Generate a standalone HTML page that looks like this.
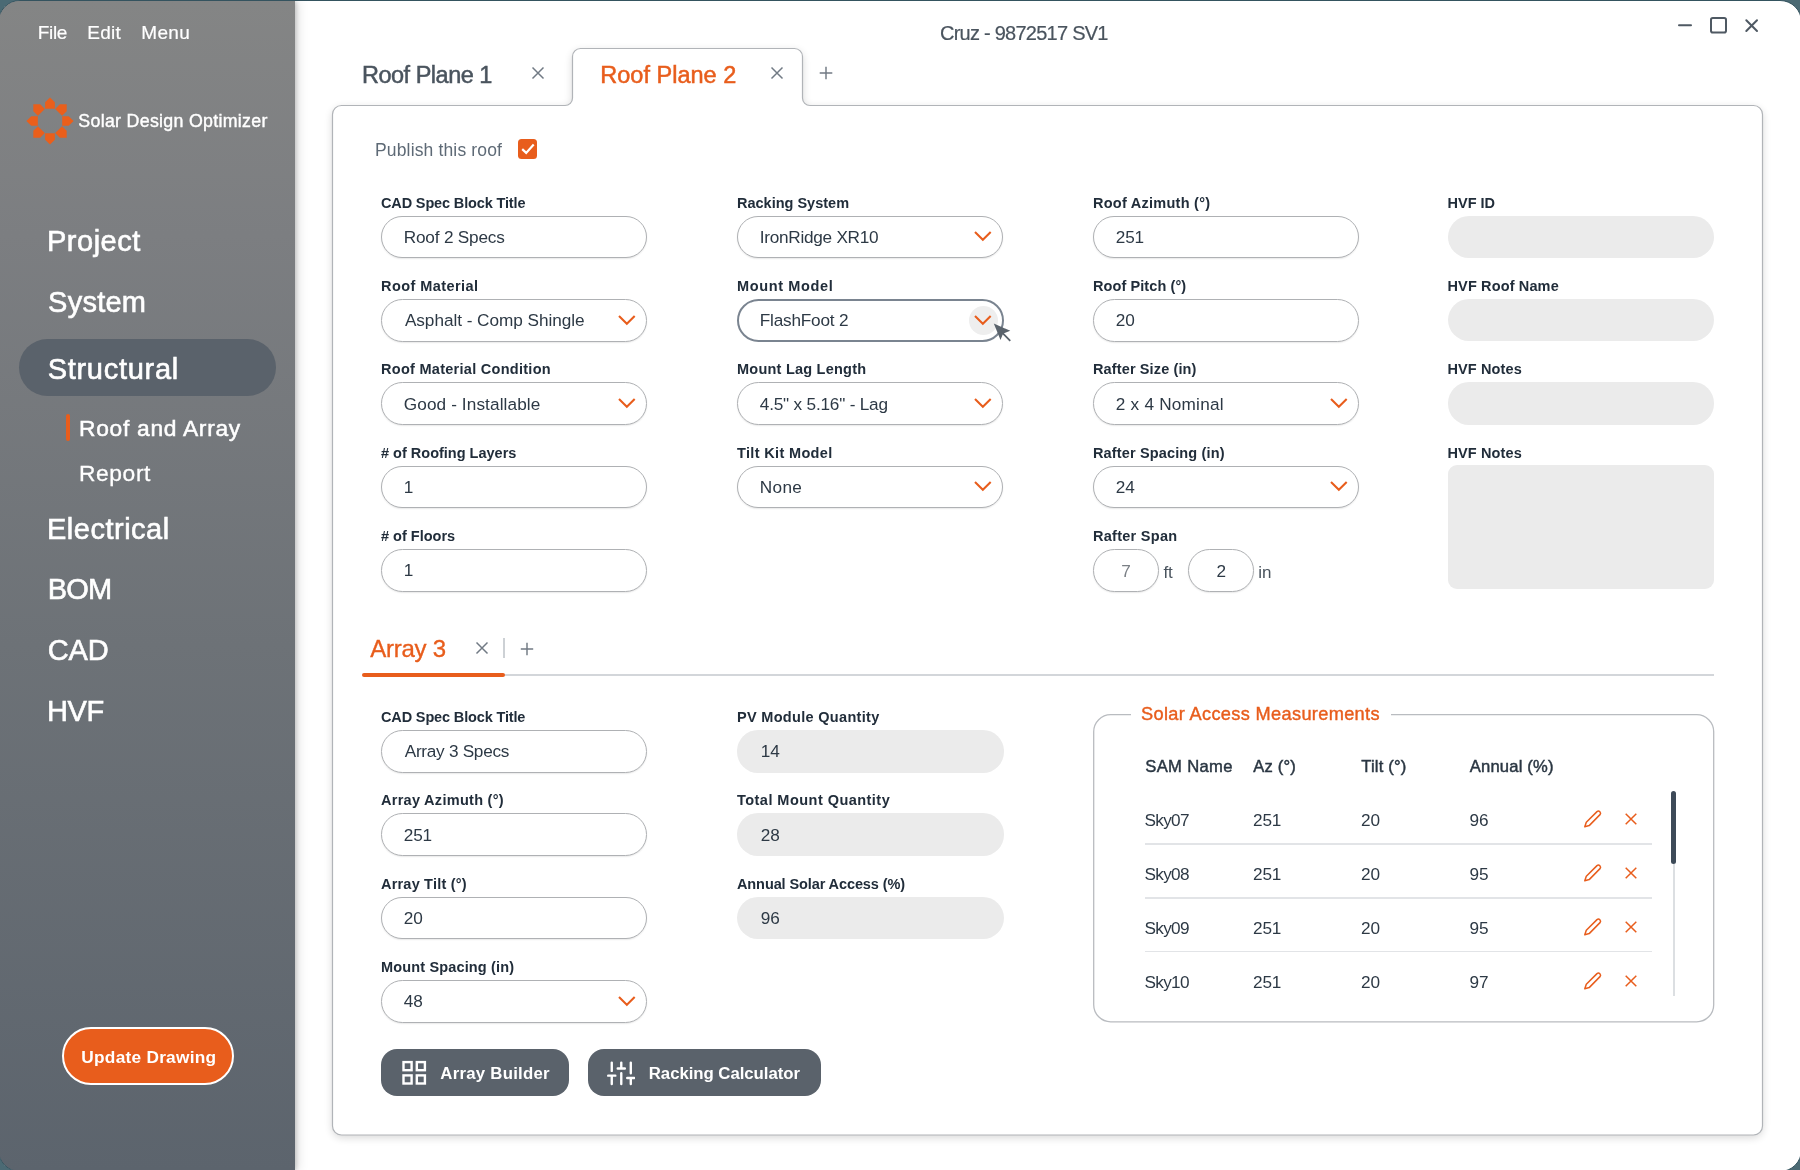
<!DOCTYPE html>
<html>
<head>
<meta charset="utf-8">
<title>Solar Design Optimizer</title>
<style>
*{box-sizing:border-box;margin:0;padding:0}
html,body{width:1800px;height:1170px;overflow:hidden}
body{background:#4b6a74;font-family:"Liberation Sans",sans-serif;position:relative}
.abs{position:absolute}
#win{position:absolute;left:-2px;top:0;width:1804px;height:1172px;border:1px solid #34535f;background:linear-gradient(180deg,#848585 0%,#7c7e81 20%,#6d7277 55%,#5c646d 100%) left top/290px 100% no-repeat,#fff;border-radius:22px;overflow:hidden}
#inner{position:absolute;left:1px;top:0;width:1800px;height:1170px;will-change:transform}
#side{position:absolute;left:-1px;top:0;width:296px;height:1170px;background:linear-gradient(180deg,#848585 0%,#7c7e81 20%,#6d7277 55%,#5c646d 100%);box-shadow:1px 0 5px rgba(0,0,0,.22),4px 0 10px rgba(0,0,0,.10);z-index:5}
#main{position:absolute;left:0;top:0;width:1800px;height:1169px}
.t{position:absolute;white-space:nowrap;line-height:1;transform:translateY(-50%)}
.menu{color:#fff;font-size:19px;letter-spacing:-.3px;-webkit-text-stroke:.2px #fff}
.brand{color:#fff;font-size:17.8px;letter-spacing:.3px;-webkit-text-stroke:.4px #fff}
.nav{color:#fff;font-size:29px;letter-spacing:.5px;-webkit-text-stroke:.6px #fff}
.sub{color:#fff;font-size:22.8px;letter-spacing:.6px;-webkit-text-stroke:.3px #fff}
.upd{color:#fff;font-size:17.3px;font-weight:bold;letter-spacing:.25px}
.title{color:#4a545e;font-size:20px;letter-spacing:-.75px;-webkit-text-stroke:.2px #4a545e}
.tab{font-size:23.5px;letter-spacing:-.5px}
.atab{font-size:24px;color:#e85d1c;-webkit-text-stroke:.35px #e85d1c}
.pub{color:#5e6a76;font-size:17.5px;letter-spacing:.15px}
.lbl{color:#212d3a;font-weight:bold;font-size:14.5px}
.val{color:#2d3945;font-size:17.2px;letter-spacing:-.2px}
.grey{color:#7a7f85}
.unit{color:#4a545e;font-size:17px}
.inp{position:absolute;width:266px;height:42.8px;border:1px solid #afb1b4;border-radius:21.4px;background:#fff;box-shadow:0 1px 1.5px rgba(0,0,0,.09)}
.inp.foc{border:2px solid #7a8490;box-shadow:none;border-radius:22px}
.dis{position:absolute;background:#ebebeb}
.btn{color:#fff;font-weight:bold;font-size:16.8px}
.leg{color:#e85d1c;font-size:18.2px;letter-spacing:.3px;-webkit-text-stroke:.4px #e85d1c}
.th{color:#2a3642;font-size:16.6px;letter-spacing:.2px;-webkit-text-stroke:.45px #2a3642}
.td{color:#2d3945;font-size:17.2px;letter-spacing:-.2px}
</style>
</head>
<body>
<div id="win"><div id="inner">
<div id="side"><div class="abs" style="left:1px;top:0">
<div class="t menu" style="left:37.7px;top:30.8px;;letter-spacing:-0.300px;">File</div>
<div class="t menu" style="left:87.2px;top:30.8px;;letter-spacing:0.300px;">Edit</div>
<div class="t menu" style="left:141.3px;top:30.8px;;letter-spacing:0.300px;">Menu</div>
<svg class="abs" style="left:23.9px;top:93.9px" width="52" height="52" viewBox="-26 -26 52 52">
<path d="M-4.87 -12.2 L-4.87 -18.7 L0 -23.6 L4.87 -18.7 L4.87 -12.2 Z" fill="#ea5f1b" transform="rotate(0)"/>
<path d="M-4.87 -12.2 L-4.87 -18.7 L0 -23.6 L4.87 -18.7 L4.87 -12.2 Z" fill="#ea5f1b" transform="rotate(45)"/>
<path d="M-4.87 -12.2 L-4.87 -18.7 L0 -23.6 L4.87 -18.7 L4.87 -12.2 Z" fill="#ea5f1b" transform="rotate(90)"/>
<path d="M-4.87 -12.2 L-4.87 -18.7 L0 -23.6 L4.87 -18.7 L4.87 -12.2 Z" fill="#ea5f1b" transform="rotate(135)"/>
<path d="M-4.87 -12.2 L-4.87 -18.7 L0 -23.6 L4.87 -18.7 L4.87 -12.2 Z" fill="#ea5f1b" transform="rotate(180)"/>
<path d="M-4.87 -12.2 L-4.87 -18.7 L0 -23.6 L4.87 -18.7 L4.87 -12.2 Z" fill="#ea5f1b" transform="rotate(225)"/>
<path d="M-4.87 -12.2 L-4.87 -18.7 L0 -23.6 L4.87 -18.7 L4.87 -12.2 Z" fill="#ea5f1b" transform="rotate(270)"/>
<path d="M-4.87 -12.2 L-4.87 -18.7 L0 -23.6 L4.87 -18.7 L4.87 -12.2 Z" fill="#ea5f1b" transform="rotate(315)"/>
</svg>
<div class="t brand" style="left:78.3px;top:120.6px;;letter-spacing:0.300px;">Solar Design Optimizer</div>
<div class="t nav" style="left:47px;top:239.5px;;letter-spacing:0.500px;">Project</div>
<div class="t nav" style="left:48.08px;top:300.5px;;letter-spacing:0.248px;">System</div>
<div class="abs" style="left:19px;top:338px;width:257px;height:57px;border-radius:28.5px;background:#5a626b"></div>
<div class="t nav" style="left:47.63px;top:367.5px;;letter-spacing:0.730px;">Structural</div>
<div class="abs" style="left:66.3px;top:413px;width:4px;height:26.5px;border-radius:2px;background:#e85d1c"></div>
<div class="t sub" style="left:79px;top:427px;-webkit-text-stroke:.5px #fff;letter-spacing:0.704px;">Roof and Array</div>
<div class="t sub" style="left:79.0px;top:472px;;letter-spacing:0.600px;">Report</div>
<div class="t nav" style="left:47px;top:527.5px;;letter-spacing:0.500px;">Electrical</div>
<div class="t nav" style="left:47.72px;top:588px;;letter-spacing:-0.760px;">BOM</div>
<div class="t nav" style="left:47.81px;top:648.5px;;letter-spacing:-0.220px;">CAD</div>
<div class="t nav" style="left:47px;top:709.5px;;letter-spacing:-0.400px;">HVF</div>
<div class="abs" style="left:62px;top:1026px;width:172px;height:58px;border-radius:29px;background:#e85d1c;border:2.5px solid #fff"></div>
<div class="t upd" style="left:81.3px;top:1056.8px;;letter-spacing:0.250px;">Update Drawing</div>
</div></div>
<div id="main">
<div class="t title" style="left:940px;top:31.6px;;letter-spacing:-0.750px;">Cruz - 9872517 SV1</div>
<svg class="abs" style="left:1670px;top:9px" width="100" height="32" viewBox="1670 10 100 32" fill="none" stroke="#4f5963" stroke-width="2" stroke-linecap="round" stroke-linejoin="round"><path d="M1679 25.3 H1691"/><rect x="1711" y="18" width="15" height="14.5" rx="1.8"/><path d="M1746.3 20.3 L1757 31 M1757 20.3 L1746.3 31"/></svg>
<svg class="abs" style="left:300px;top:19px;overflow:visible" width="1490" height="1150" viewBox="300 20 1490 1150"><defs><filter id="sh" x="-5%" y="-5%" width="110%" height="110%"><feGaussianBlur stdDeviation="4.5"/></filter></defs><path d="M332.5 114.5 A9 9 0 0 1 341.5 105.5 H565.0 A7.5 7.5 0 0 0 572.5 98.0 V56.5 A8 8 0 0 1 580.5 48.5 H794.5 A8 8 0 0 1 802.5 56.5 V98.0 A7.5 7.5 0 0 0 810.0 105.5 H1753.5 A9 9 0 0 1 1762.5 114.5 V1126 A9 9 0 0 1 1753.5 1135 H341.5 A9 9 0 0 1 332.5 1126 Z" fill="#000" opacity=".16" filter="url(#sh)" transform="translate(0,2.5)"/><path d="M332.5 114.5 A9 9 0 0 1 341.5 105.5 H565.0 A7.5 7.5 0 0 0 572.5 98.0 V56.5 A8 8 0 0 1 580.5 48.5 H794.5 A8 8 0 0 1 802.5 56.5 V98.0 A7.5 7.5 0 0 0 810.0 105.5 H1753.5 A9 9 0 0 1 1762.5 114.5 V1126 A9 9 0 0 1 1753.5 1135 H341.5 A9 9 0 0 1 332.5 1126 Z" fill="#fff" stroke="#b1b4b8" stroke-width="1.2"/></svg>
<div class="t tab" style="left:362px;top:75px;color:#4a545e;-webkit-text-stroke:.5px #4a545e;letter-spacing:-0.500px;">Roof Plane 1</div>
<div class="t tab" style="left:600.3px;top:75px;color:#e85d1c;-webkit-text-stroke:.5px #e85d1c;letter-spacing:-.1px;letter-spacing:0.006px;">Roof Plane 2</div>
<svg class="abs" style="left:528.1px;top:61.599999999999994px" width="20" height="20" viewBox="-10 -10 20 20"><path d="M-5.5 -5.5 L5.5 5.5 M5.5 -5.5 L-5.5 5.5" stroke="#717a84" stroke-width="1.45" fill="none"/></svg>
<svg class="abs" style="left:767.1px;top:61.599999999999994px" width="20" height="20" viewBox="-10 -10 20 20"><path d="M-5.5 -5.5 L5.5 5.5 M5.5 -5.5 L-5.5 5.5" stroke="#717a84" stroke-width="1.45" fill="none"/></svg>
<svg class="abs" style="left:816px;top:61.599999999999994px" width="20" height="20" viewBox="-10 -10 20 20"><path d="M-6.3 0 H6.3 M0 -6.3 V6.3" stroke="#717a84" stroke-width="1.45" fill="none"/></svg>
<div class="t pub" style="left:375px;top:150px;;letter-spacing:0.150px;">Publish this roof</div>
<div class="abs" style="left:518px;top:138.1px;width:19.2px;height:19.6px;border-radius:3.5px;background:#e85d1c"></div>
<svg class="abs" style="left:518px;top:137.6px" width="19.5" height="19.5" viewBox="0 0 19.5 19.5"><path d="M4.2 10.1 L8.2 13.9 L15.7 5.6" fill="none" stroke="#fff" stroke-width="2.2" stroke-linecap="butt" stroke-linejoin="miter"/></svg>
<div class="t lbl" style="left:381px;top:201.5px;;letter-spacing:-0.142px;">CAD Spec Block Title</div>
<div class="inp" style="left:381px;top:214.6px;width:266px"></div>
<div class="t val" style="left:403.8px;top:236.9px;;letter-spacing:-0.200px;">Roof 2 Specs</div>
<div class="t lbl" style="left:381px;top:284.8px;;letter-spacing:0.435px;">Roof Material</div>
<div class="inp" style="left:381px;top:297.90000000000003px;width:266px"></div>
<div class="t val" style="left:404.88px;top:320.2px;;letter-spacing:-0.037px;">Asphalt - Comp Shingle</div>
<svg class="abs" style="left:617.35px;top:312.75000000000006px" width="19.7" height="11.8" viewBox="-2 -2 19.7 11.8"><path d="M0 0 L7.85 7.8 L15.7 0" fill="none" stroke="#e85d1c" stroke-width="2.05" stroke-linecap="butt" stroke-linejoin="miter"/></svg>
<div class="t lbl" style="left:381px;top:368.2px;;letter-spacing:0.278px;">Roof Material Condition</div>
<div class="inp" style="left:381px;top:381.3px;width:266px"></div>
<div class="t val" style="left:403.8px;top:403.59999999999997px;;letter-spacing:0.107px;">Good - Installable</div>
<svg class="abs" style="left:617.35px;top:396.15000000000003px" width="19.7" height="11.8" viewBox="-2 -2 19.7 11.8"><path d="M0 0 L7.85 7.8 L15.7 0" fill="none" stroke="#e85d1c" stroke-width="2.05" stroke-linecap="butt" stroke-linejoin="miter"/></svg>
<div class="t lbl" style="left:381px;top:451.5px;;letter-spacing:0.000px;"># of Roofing Layers</div>
<div class="inp" style="left:381px;top:464.6px;width:266px"></div>
<div class="t val" style="left:403.8px;top:486.9px;">1</div>
<div class="t lbl" style="left:381px;top:534.8px;;letter-spacing:0.000px;"># of Floors</div>
<div class="inp" style="left:381px;top:547.9px;width:266px"></div>
<div class="t val" style="left:403.8px;top:570.1999999999999px;">1</div>
<div class="t lbl" style="left:737px;top:201.5px;;letter-spacing:0.000px;">Racking System</div>
<div class="inp" style="left:737px;top:214.6px;width:266px"></div>
<div class="t val" style="left:759.8px;top:236.9px;;letter-spacing:-0.269px;">IronRidge XR10</div>
<svg class="abs" style="left:973.35px;top:229.45px" width="19.7" height="11.8" viewBox="-2 -2 19.7 11.8"><path d="M0 0 L7.85 7.8 L15.7 0" fill="none" stroke="#e85d1c" stroke-width="2.05" stroke-linecap="butt" stroke-linejoin="miter"/></svg>
<div class="t lbl" style="left:737px;top:284.8px;;letter-spacing:0.630px;">Mount Model</div>
<div class="inp foc" style="left:736.5px;top:297.8px;width:267px;height:43px"></div>
<div class="t val" style="left:759.8px;top:320.2px;;letter-spacing:-0.200px;">FlashFoot 2</div>
<div class="abs" style="left:968.9px;top:304.8px;width:29px;height:29px;border-radius:50%;background:#eeeeee"></div>
<svg class="abs" style="left:973.35px;top:312.75000000000006px" width="19.7" height="11.8" viewBox="-2 -2 19.7 11.8"><path d="M0 0 L7.85 7.8 L15.7 0" fill="none" stroke="#e85d1c" stroke-width="2.05" stroke-linecap="butt" stroke-linejoin="miter"/></svg>
<div class="t lbl" style="left:737px;top:368.2px;;letter-spacing:0.228px;">Mount Lag Length</div>
<div class="inp" style="left:737px;top:381.3px;width:266px"></div>
<div class="t val" style="left:759.8px;top:403.59999999999997px;">4.5" x 5.16" - Lag</div>
<svg class="abs" style="left:973.35px;top:396.15000000000003px" width="19.7" height="11.8" viewBox="-2 -2 19.7 11.8"><path d="M0 0 L7.85 7.8 L15.7 0" fill="none" stroke="#e85d1c" stroke-width="2.05" stroke-linecap="butt" stroke-linejoin="miter"/></svg>
<div class="t lbl" style="left:737px;top:451.5px;;letter-spacing:0.346px;">Tilt Kit Model</div>
<div class="inp" style="left:737px;top:464.6px;width:266px"></div>
<div class="t val" style="left:759.8px;top:486.9px;;letter-spacing:0.340px;">None</div>
<svg class="abs" style="left:973.35px;top:479.45000000000005px" width="19.7" height="11.8" viewBox="-2 -2 19.7 11.8"><path d="M0 0 L7.85 7.8 L15.7 0" fill="none" stroke="#e85d1c" stroke-width="2.05" stroke-linecap="butt" stroke-linejoin="miter"/></svg>
<div class="t lbl" style="left:1093px;top:201.5px;;letter-spacing:0.258px;">Roof Azimuth (°)</div>
<div class="inp" style="left:1093px;top:214.6px;width:266px"></div>
<div class="t val" style="left:1115.8px;top:236.9px;">251</div>
<div class="t lbl" style="left:1093px;top:284.8px;;letter-spacing:0.090px;">Roof Pitch (°)</div>
<div class="inp" style="left:1093px;top:297.90000000000003px;width:266px"></div>
<div class="t val" style="left:1115.8px;top:320.2px;">20</div>
<div class="t lbl" style="left:1093px;top:368.2px;;letter-spacing:0.126px;">Rafter Size (in)</div>
<div class="inp" style="left:1093px;top:381.3px;width:266px"></div>
<div class="t val" style="left:1115.8px;top:403.59999999999997px;;letter-spacing:0.220px;">2 x 4 Nominal</div>
<svg class="abs" style="left:1329.3500000000001px;top:396.15000000000003px" width="19.7" height="11.8" viewBox="-2 -2 19.7 11.8"><path d="M0 0 L7.85 7.8 L15.7 0" fill="none" stroke="#e85d1c" stroke-width="2.05" stroke-linecap="butt" stroke-linejoin="miter"/></svg>
<div class="t lbl" style="left:1093px;top:451.5px;;letter-spacing:0.145px;">Rafter Spacing (in)</div>
<div class="inp" style="left:1093px;top:464.6px;width:266px"></div>
<div class="t val" style="left:1115.8px;top:486.9px;">24</div>
<svg class="abs" style="left:1329.3500000000001px;top:479.45000000000005px" width="19.7" height="11.8" viewBox="-2 -2 19.7 11.8"><path d="M0 0 L7.85 7.8 L15.7 0" fill="none" stroke="#e85d1c" stroke-width="2.05" stroke-linecap="butt" stroke-linejoin="miter"/></svg>
<div class="t lbl" style="left:1093px;top:534.8px;;letter-spacing:0.270px;">Rafter Span</div>
<div class="inp" style="left:1093px;top:547.9px;width:66px"></div>
<div class="t val" style="left:1115.8px;top:570.1999999999999px;"></div>
<div class="t val grey" style="left:1093px;top:570.6999999999999px;width:66px;text-align:center">7</div>
<div class="t unit" style="left:1163.4px;top:570.6999999999999px;">ft</div>
<div class="inp" style="left:1188px;top:547.9px;width:66px"></div>
<div class="t val" style="left:1210.8px;top:570.1999999999999px;"></div>
<div class="t val" style="left:1188.3px;top:570.6999999999999px;width:66px;text-align:center">2</div>
<div class="t unit" style="left:1258.2px;top:570.6999999999999px;">in</div>
<div class="t lbl" style="left:1447.5px;top:201.5px;;letter-spacing:0.000px;">HVF ID</div>
<div class="dis" style="left:1447.5px;top:214.6px;width:266.5px;height:42.6px;border-radius:21px"></div>
<div class="t lbl" style="left:1447.5px;top:284.8px;;letter-spacing:0.136px;">HVF Roof Name</div>
<div class="dis" style="left:1447.5px;top:297.90000000000003px;width:266.5px;height:42.6px;border-radius:21px"></div>
<div class="t lbl" style="left:1447.5px;top:368.2px;;letter-spacing:0.112px;">HVF Notes</div>
<div class="dis" style="left:1447.5px;top:381.3px;width:266.5px;height:42.6px;border-radius:21px"></div>
<div class="t lbl" style="left:1447.5px;top:451.5px;;letter-spacing:0.112px;">HVF Notes</div>
<div class="dis" style="left:1447.5px;top:464.3px;width:266.5px;height:123.5px;border-radius:9px"></div>
<svg class="abs" style="left:990px;top:319px" width="26" height="26" viewBox="990 320 26 26"><path d="M993.8 323.6 L1010.3 330.8 L1003.9 333.2 L1010.9 340.2 L1009.6 341.4 L1002.7 334.4 L1000.5 339.9 Z" fill="#5a636c"/></svg>
<div class="abs" style="left:363px;top:672.8px;width:1351px;height:2px;background:#d3d6da"></div>
<div class="abs" style="left:362.3px;top:671.8px;width:142.6px;height:4.6px;border-radius:2.3px;background:#e85d1c"></div>
<div class="t atab" style="left:370.3px;top:647.6px;;letter-spacing:-0.255px;">Array 3</div>
<svg class="abs" style="left:471.7px;top:637.4px" width="20" height="20" viewBox="-10 -10 20 20"><path d="M-5.5 -5.5 L5.5 5.5 M5.5 -5.5 L-5.5 5.5" stroke="#717a84" stroke-width="1.45" fill="none"/></svg>
<svg class="abs" style="left:516.8px;top:637.5px" width="20" height="20" viewBox="-10 -10 20 20"><path d="M-6.2 0 H6.2 M0 -6.2 V6.2" stroke="#717a84" stroke-width="1.45" fill="none"/></svg>
<div class="abs" style="left:503.4px;top:637.4px;width:2px;height:19.4px;background:#cdd1d5"></div>
<div class="t lbl" style="left:381px;top:715.9px;;letter-spacing:-0.147px;">CAD Spec Block Title</div>
<div class="inp" style="left:381px;top:729.0px;width:266px"></div>
<div class="t val" style="left:404.7px;top:751.3px;;letter-spacing:-0.275px;">Array 3 Specs</div>
<div class="t lbl" style="left:381px;top:799.2px;;letter-spacing:0.287px;">Array Azimuth (°)</div>
<div class="inp" style="left:381px;top:812.3000000000001px;width:266px"></div>
<div class="t val" style="left:403.8px;top:834.6px;">251</div>
<div class="t lbl" style="left:381px;top:882.6px;;letter-spacing:0.201px;">Array Tilt (°)</div>
<div class="inp" style="left:381px;top:895.7px;width:266px"></div>
<div class="t val" style="left:403.8px;top:918.0px;">20</div>
<div class="t lbl" style="left:381px;top:965.9px;;letter-spacing:0.148px;">Mount Spacing (in)</div>
<div class="inp" style="left:381px;top:979.0px;width:266px"></div>
<div class="t val" style="left:403.8px;top:1001.3px;">48</div>
<svg class="abs" style="left:617.35px;top:993.85px" width="19.7" height="11.8" viewBox="-2 -2 19.7 11.8"><path d="M0 0 L7.85 7.8 L15.7 0" fill="none" stroke="#e85d1c" stroke-width="2.05" stroke-linecap="butt" stroke-linejoin="miter"/></svg>
<div class="t lbl" style="left:737px;top:715.9px;;letter-spacing:0.312px;">PV Module Quantity</div>
<div class="dis" style="left:737px;top:729.0px;width:266.5px;height:42.7px;border-radius:21px"></div>
<div class="t val" style="left:760.8px;top:751.3px;">14</div>
<div class="t lbl" style="left:737px;top:799.2px;;letter-spacing:0.464px;">Total Mount Quantity</div>
<div class="dis" style="left:737px;top:812.3000000000001px;width:266.5px;height:42.7px;border-radius:21px"></div>
<div class="t val" style="left:760.8px;top:834.6px;">28</div>
<div class="t lbl" style="left:737px;top:882.6px;;letter-spacing:-0.102px;">Annual Solar Access (%)</div>
<div class="dis" style="left:737px;top:895.7px;width:266.5px;height:42.7px;border-radius:21px"></div>
<div class="t val" style="left:760.8px;top:918.0px;">96</div>
<div class="abs" style="left:381px;top:1048px;width:188.3px;height:47px;border-radius:16px;background:#5a626b"></div>
<div class="abs" style="left:588px;top:1048px;width:232.5px;height:47px;border-radius:16px;background:#5a626b"></div>
<svg class="abs" style="left:398px;top:1055px" width="34" height="34" viewBox="398 1056 34 34" fill="none" stroke="#fff" stroke-width="2.4"><rect x="403.5" y="1062.1" width="8.1" height="8.1"/><rect x="416.8" y="1062.1" width="8.1" height="8.1"/><rect x="403.5" y="1075.4" width="8.1" height="8.1"/><rect x="416.8" y="1075.4" width="8.1" height="8.1"/></svg>
<svg class="abs" style="left:606.95px;top:1057.55px" width="28.56" height="28.56" viewBox="0 0 24 24" fill="none" stroke="#fff" stroke-width="2" stroke-linecap="round"><path d="M4 21v-7M4 10V3M12 21v-9M12 8V3M20 21v-5M20 12V3M1 14h6M9 8h6M17 16h6"/></svg>
<div class="t btn" style="left:440.3px;top:1072.5px;letter-spacing:.25px;letter-spacing:0.250px;">Array Builder</div>
<div class="t btn" style="left:648.8px;top:1072.5px;letter-spacing:-.05px;letter-spacing:-0.050px;">Racking Calculator</div>
<svg class="abs" style="left:1080px;top:699px" width="650" height="340" viewBox="1080 700 650 340"><path d="M1131 714.7 H1110.7 A17 17 0 0 0 1093.7 731.7 V1004.8 A17 17 0 0 0 1110.7 1021.8 H1696.7 A17 17 0 0 0 1713.7 1004.8 V731.7 A17 17 0 0 0 1696.7 714.7 H1391" fill="none" stroke="#b9bcc0" stroke-width="1.3"/></svg>
<div class="t leg" style="left:1141px;top:713.2px;;letter-spacing:0.337px;">Solar Access Measurements</div>
<div class="t th" style="left:1145.33px;top:766.2px;;letter-spacing:0.329px;">SAM Name</div>
<div class="t th" style="left:1253.2px;top:766.2px;">Az (°)</div>
<div class="t th" style="left:1361.2px;top:766.2px;">Tilt (°)</div>
<div class="t th" style="left:1469.7px;top:766.2px;">Annual (%)</div>
<div class="t td" style="left:1144.6px;top:820.0px;;letter-spacing:-0.717px;">Sky07</div>
<div class="t td" style="left:1253.1px;top:820.0px;">251</div>
<div class="t td" style="left:1361.1px;top:820.0px;">20</div>
<div class="t td" style="left:1469.6px;top:820.0px;">96</div>
<svg class="abs" style="left:1580px;top:805px" width="26" height="26" viewBox="1580 806 26 26"><path d="M1584.8 826.7 L1586.3 822.2 L1597 811.6 A2.15 2.15 0 0 1 1600 814.65 L1589.2 825.6 Z" fill="none" stroke="#e85d1c" stroke-width="1.5" stroke-linejoin="round"/></svg>
<svg class="abs" style="left:1621px;top:808px" width="20" height="20" viewBox="-10 -10 20 20"><path d="M-5.3 -5.3 L5.3 5.3 M5.3 -5.3 L-5.3 5.3" stroke="#e85d1c" stroke-width="1.5" fill="none"/></svg>
<div class="abs" style="left:1145.2px;top:842.1px;width:507px;height:1.7px;background:#e2e4e7"></div>
<div class="t td" style="left:1144.6px;top:874.0px;;letter-spacing:-0.717px;">Sky08</div>
<div class="t td" style="left:1253.1px;top:874.0px;">251</div>
<div class="t td" style="left:1361.1px;top:874.0px;">20</div>
<div class="t td" style="left:1469.6px;top:874.0px;">95</div>
<svg class="abs" style="left:1580px;top:859px" width="26" height="26" viewBox="1580 806 26 26"><path d="M1584.8 826.7 L1586.3 822.2 L1597 811.6 A2.15 2.15 0 0 1 1600 814.65 L1589.2 825.6 Z" fill="none" stroke="#e85d1c" stroke-width="1.5" stroke-linejoin="round"/></svg>
<svg class="abs" style="left:1621px;top:862px" width="20" height="20" viewBox="-10 -10 20 20"><path d="M-5.3 -5.3 L5.3 5.3 M5.3 -5.3 L-5.3 5.3" stroke="#e85d1c" stroke-width="1.5" fill="none"/></svg>
<div class="abs" style="left:1145.2px;top:895.9px;width:507px;height:1.7px;background:#e2e4e7"></div>
<div class="t td" style="left:1144.6px;top:928.0px;;letter-spacing:-0.717px;">Sky09</div>
<div class="t td" style="left:1253.1px;top:928.0px;">251</div>
<div class="t td" style="left:1361.1px;top:928.0px;">20</div>
<div class="t td" style="left:1469.6px;top:928.0px;">95</div>
<svg class="abs" style="left:1580px;top:913px" width="26" height="26" viewBox="1580 806 26 26"><path d="M1584.8 826.7 L1586.3 822.2 L1597 811.6 A2.15 2.15 0 0 1 1600 814.65 L1589.2 825.6 Z" fill="none" stroke="#e85d1c" stroke-width="1.5" stroke-linejoin="round"/></svg>
<svg class="abs" style="left:1621px;top:916px" width="20" height="20" viewBox="-10 -10 20 20"><path d="M-5.3 -5.3 L5.3 5.3 M5.3 -5.3 L-5.3 5.3" stroke="#e85d1c" stroke-width="1.5" fill="none"/></svg>
<div class="abs" style="left:1145.2px;top:949.7px;width:507px;height:1.7px;background:#e2e4e7"></div>
<div class="t td" style="left:1144.6px;top:982.0px;;letter-spacing:-0.717px;">Sky10</div>
<div class="t td" style="left:1253.1px;top:982.0px;">251</div>
<div class="t td" style="left:1361.1px;top:982.0px;">20</div>
<div class="t td" style="left:1469.6px;top:982.0px;">97</div>
<svg class="abs" style="left:1580px;top:967px" width="26" height="26" viewBox="1580 806 26 26"><path d="M1584.8 826.7 L1586.3 822.2 L1597 811.6 A2.15 2.15 0 0 1 1600 814.65 L1589.2 825.6 Z" fill="none" stroke="#e85d1c" stroke-width="1.5" stroke-linejoin="round"/></svg>
<svg class="abs" style="left:1621px;top:970px" width="20" height="20" viewBox="-10 -10 20 20"><path d="M-5.3 -5.3 L5.3 5.3 M5.3 -5.3 L-5.3 5.3" stroke="#e85d1c" stroke-width="1.5" fill="none"/></svg>
<div class="abs" style="left:1672.9px;top:863px;width:1.8px;height:131.5px;background:#dcdfe2"></div>
<div class="abs" style="left:1671.2px;top:790.3px;width:5px;height:73px;border-radius:2.5px;background:#3d4a58"></div>
</div>
</div></div>
</body>
</html>
